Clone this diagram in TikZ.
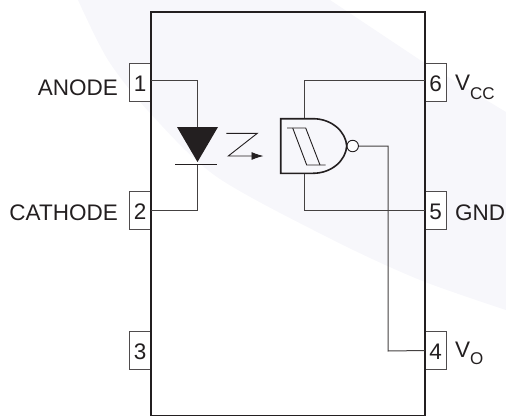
\documentclass[tikz,border=0pt]{standalone}
\usepackage{fontspec}
\setmainfont{Liberation Sans}
\definecolor{ink}{HTML}{231F20}
\definecolor{swoosh}{HTML}{F7F7FB}
\usetikzlibrary{arrows.meta}
\tikzset{
  pin/.style={draw=ink!80,line width=0.8pt,fill=white,minimum width=21.5pt,minimum height=38pt,inner sep=0pt,text height=18.5pt,text=ink,font=\fontsize{22.5}{23}\selectfont},
  tag/.style={inner sep=0pt,text=ink,font=\fontsize{22.5}{23}\selectfont},
  wire/.style={draw=ink!85,line width=1pt},
  thin line/.style={draw=ink,line width=0.9pt}
}
\newcommand{\subtag}[2]{\raisebox{#1}{\fontsize{17}{17}\selectfont #2}}
\begin{document}
\begin{tikzpicture}[x=1pt,y=-1pt]
  \useasboundingbox (0,0) rectangle (506,415);
  \fill[swoosh] plot[smooth] coordinates {(78,0) (108,60) (150,113) (217,177) (333,240) (420,280) (506,310)}
    -- (506,112) -- (420,60) -- (330,0) -- cycle;
  \node[pin] (1) at (140.25,82) {1};
  \node[pin] (2) at (140.25,210) {2};
  \node[pin] (3) at (140.25,350.5) {3};
  \node[pin] (4) at (435.75,350.5) {4};
  \node[pin] (5) at (435.75,210) {5};
  \node[pin] (6) at (435.75,82) {6};
  \draw[ink,line width=2pt] (151,11.5) rectangle (425,415.7);
  \node[tag,anchor=base east] (anode) at (118,95) {ANODE};
  \node[tag,anchor=base east] (cathode) at (118,220) {CATHODE};
  \node[tag,anchor=base west] (vcc) at (455,90) {V\subtag{-9pt}{CC}};
  \node[tag,anchor=base west] (gnd) at (455,220) {GND};
  \node[tag,anchor=base west] (vo) at (455,357) {V\subtag{-7.3pt}{O}};
  \coordinate (dtop) at (197,127);
  \coordinate (dleft) at (177,127);
  \coordinate (dright) at (218,127);
  \coordinate (dtip) at (197.5,162);
  \coordinate (dbar) at (197.5,164);
  \coordinate (gvcc) at (304,118.7);
  \coordinate (ggnd) at (304,173.3);
  \node[circle,draw=ink,line width=0.9pt,fill=white,minimum size=11.5pt,inner sep=0pt] (bubble) at (352.7,146) {};
  \begin{scope}[wire]
    \draw ([yshift=1.5pt]1.east) -| (dtop);
    \draw (dbar) |- ([yshift=-0.5pt]2.east);
    \draw (gvcc) |- ([yshift=1.5pt]6.west);
    \draw (ggnd) |- ([yshift=-0.5pt]5.west);
    \draw (bubble.east) -| (388,351) -- (4.west);
  \end{scope}
  \fill[ink] (dleft) -- (dright) -- (dtip) -- cycle;
  \draw[thin line] (175,164) -- (216.7,164);
  \draw[ink,line width=1.6pt,line join=miter] (313,118.7) -- (280.7,118.7) -- (280.7,173.3) -- (313,173.3)
    .. controls (332,173.3) and (346,160) .. (346.7,146)
    .. controls (346,132) and (332,118.7) .. (313,118.7) -- cycle;
  \draw[thin line] (287,128) -- (305.7,128) -- (320,165);
  \draw[thin line] (292.7,128) -- (306.7,165) -- (325.7,165);
  \draw[thin line,-{Latex[length=12pt,width=8pt]}] (226.3,133.3) -- (257.3,133.3) -- (228.3,156) -- (263.5,156);
\end{tikzpicture}
\end{document}
